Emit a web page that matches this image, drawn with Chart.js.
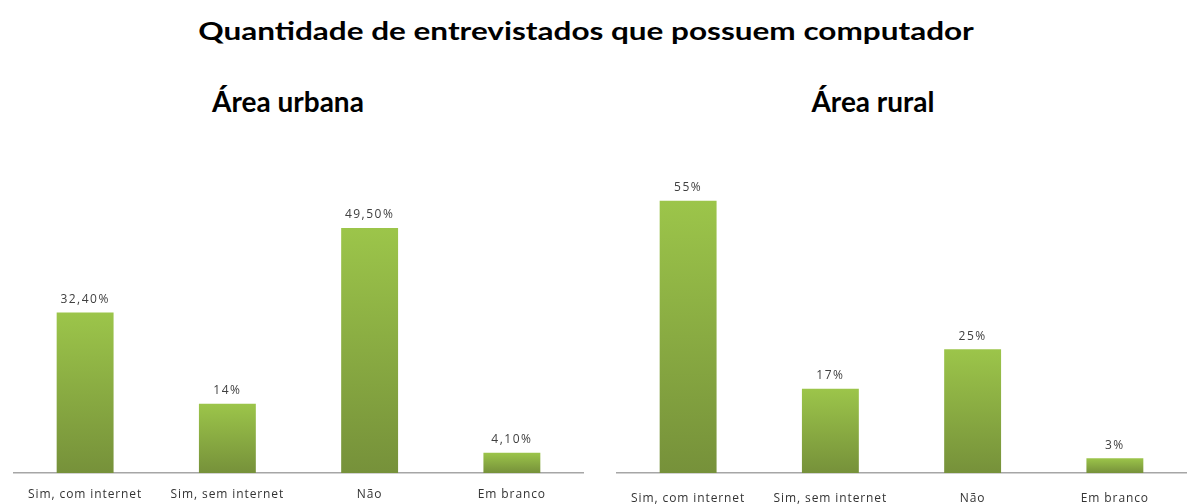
<!DOCTYPE html>
<html>
<head>
<meta charset="utf-8">
<script src="https://cdn.jsdelivr.net/npm/chart.js@4/dist/chart.umd.min.js"></script>
<style>
  body { margin: 0; background: #fff; }
  #wrap { position: relative; width: 1187px; height: 504px; overflow: hidden; font-family: Lato, "Open Sans", sans-serif; }
  .head { position: absolute; font-weight: bold; color: #000; white-space: nowrap; transform: translateX(-50%); }
  #title { left: 586px; top: 15px; font-size: 25px; transform: translateX(-50%) scaleX(1.26); }
  .sub { top: 84px; font-size: 28px; }
  canvas { position: absolute; top: 0; }
</style>
</head>
<body>
<div id="wrap">
  <div id="title" class="head">Quantidade de entrevistados que possuem computador</div>
  <div class="head sub" style="left:288px">Área urbana</div>
  <div class="head sub" style="left:873px">Área rural</div>
  <canvas id="urbana" width="600" height="504" style="left:0"></canvas>
  <canvas id="rural" width="587" height="504" style="left:600px"></canvas>
</div>
<script>
const categories = ["Sim, com internet", "Sim, sem internet", "Não", "Em branco"];
const urbanValues = [32.4, 14, 49.5, 4.1];
const urbanLabels = ["32,40%", "14%", "49,50%", "4,10%"];
const ruralValues = [55, 17, 25, 3];
const ruralLabels = ["55%", "17%", "25%", "3%"];

// draws the value text above every bar
const valueLabels = {
  id: "valueLabels",
  beforeDraw(chart) {
    // the original text is set wide, spread the tick labels a bit
    chart.ctx.letterSpacing = "0.9px";
  },
  afterDatasetsDraw(chart, args, opts) {
    const ctx = chart.ctx;
    const meta = chart.getDatasetMeta(0);
    ctx.save();
    ctx.letterSpacing = "1.5px";
    ctx.font = "12px 'Open Sans', sans-serif";
    ctx.fillStyle = "#404040";
    ctx.textAlign = "center";
    ctx.textBaseline = "bottom";
    meta.data.forEach((bar, i) => {
      ctx.fillText(opts.labels[i], bar.x, bar.y - 7);
    });
    ctx.restore();
  },
  afterDraw(chart) {
    chart.ctx.letterSpacing = "0px";
  }
};

function barGradient(context) {
  const chart = context.chart;
  const y = chart.scales.y;
  if (!chart.chartArea || !y) return "#8db442";
  const top = y.getPixelForValue(context.raw);
  const g = chart.ctx.createLinearGradient(0, top, 0, chart.chartArea.bottom);
  g.addColorStop(0, "#9cc54a");
  g.addColorStop(1, "#76913a");
  return g;
}

function makeChart(id, values, labels, pad, tickPad) {
  new Chart(document.getElementById(id), {
    type: "bar",
    data: {
      labels: categories,
      datasets: [{
        data: values,
        backgroundColor: barGradient,
        borderWidth: 0,
        categoryPercentage: 1,
        barPercentage: 0.4
      }]
    },
    options: {
      responsive: false,
      animation: false,
      layout: { padding: pad },
      plugins: {
        legend: { display: false },
        tooltip: { enabled: false },
        valueLabels: { labels: labels }
      },
      scales: {
        x: {
          grid: { display: false, drawTicks: false },
          border: { display: true, color: "#a6a6a6", width: 1.5 },
          ticks: { color: "#333", padding: tickPad, font: { family: "'Open Sans', sans-serif", size: 12 } },
          afterFit(scale) { scale.height = 31; }
        },
        y: { display: false, min: 0, max: 60 }
      }
    },
    plugins: [valueLabels]
  });
}

makeChart("urbana", urbanValues, urbanLabels, { left: 14, right: 17, top: 176, bottom: 0 }, 14);
makeChart("rural", ruralValues, ruralLabels, { left: 17, right: 1, top: 176, bottom: 0 }, 18);
</script>
</body>
</html>
